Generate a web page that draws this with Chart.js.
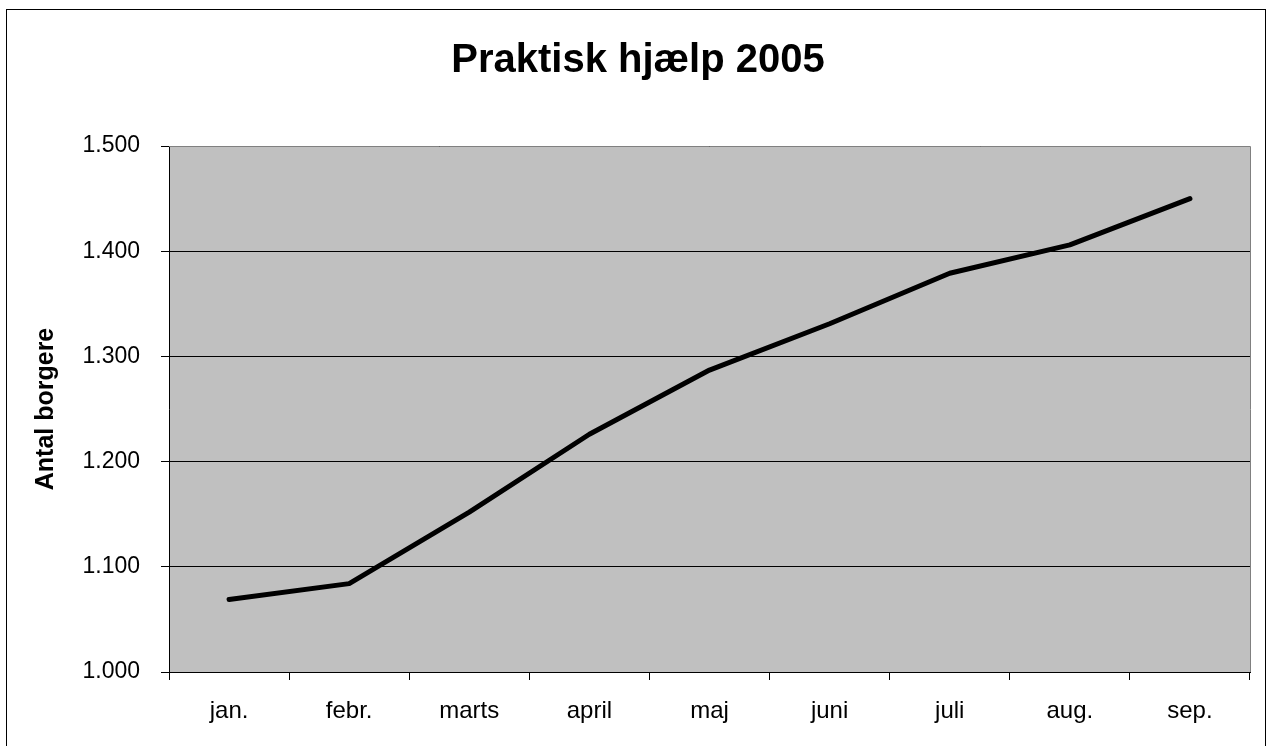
<!DOCTYPE html>
<html>
<head>
<meta charset="utf-8">
<title>Praktisk hjælp 2005</title>
<script src="https://cdn.jsdelivr.net/npm/chart.js@4"></script>
<style>
    body { margin: 0; background: #fff; }
    canvas { display: block; }
</style>
</head>
<body>
<canvas id="helpChart" width="1270" height="746"></canvas>
<script>
// Data
const months = ['jan.', 'febr.', 'marts', 'april', 'maj', 'juni', 'juli', 'aug.', 'sep.'];
const citizens = [1069, 1084, 1152, 1226, 1287, 1331, 1379, 1406, 1450];
const yTicks = [1000, 1100, 1200, 1300, 1400, 1500];

const fontFamily = '"Liberation Sans", Arial, sans-serif';

// Danish thousands separator, e.g. 1.500
function formatDa(value) {
    const s = String(Math.round(value));
    return s.replace(/\B(?=(\d{3})+(?!\d))/g, '.');
}

// Grey plot area, outer frame and grey top/right edges
const framePlugin = {
    id: 'frame',
    beforeDraw(chart) {
        const ctx = chart.ctx;
        const a = chart.chartArea;
        ctx.save();
        ctx.fillStyle = '#fff';
        ctx.fillRect(0, 0, chart.width, chart.height);
        ctx.fillStyle = '#C0C0C0';
        ctx.fillRect(a.left, a.top, a.right - a.left, a.bottom - a.top);
        ctx.restore();
    },
    afterDraw(chart) {
        const ctx = chart.ctx;
        const a = chart.chartArea;
        ctx.save();
        ctx.strokeStyle = '#808080';
        ctx.lineWidth = 1;
        ctx.beginPath();
        ctx.moveTo(a.left, a.top + 0.5);
        ctx.lineTo(a.right + 0.5, a.top + 0.5);
        ctx.lineTo(a.right + 0.5, a.bottom);
        ctx.stroke();
        ctx.strokeStyle = '#000';
        ctx.strokeRect(6.5, 9.5, 1259, 800);
        ctx.restore();
    }
};

const ctx = document.getElementById('helpChart').getContext('2d');
new Chart(ctx, {
    type: 'line',
    data: {
        labels: months,
        datasets: [{
            label: 'Antal borgere',
            data: citizens,
            borderColor: '#000',
            borderWidth: 5,
            borderCapStyle: 'round',
            borderJoinStyle: 'round',
            pointRadius: 0,
            tension: 0,
            fill: false
        }]
    },
    options: {
        responsive: false,
        animation: false,
        layout: { padding: { top: 0, left: 26, right: 20, bottom: 0 } },
        plugins: {
            legend: { display: false },
            tooltip: { enabled: false },
            title: {
                display: true,
                text: 'Praktisk hjælp 2005',
                color: '#000',
                font: { family: fontFamily, size: 40, weight: 'bold', lineHeight: 1.2 },
                padding: { top: 37, bottom: 61 }
            }
        },
        scales: {
            x: {
                offset: true,
                grid: {
                    offset: true,
                    drawOnChartArea: false,
                    drawTicks: true,
                    tickLength: 8,
                    color: '#000'
                },
                border: { color: '#000', width: 1 },
                ticks: {
                    color: '#000',
                    padding: 17,
                    maxRotation: 0,
                    font: { family: fontFamily, size: 24 }
                },
                afterFit(scale) { scale.height = 74; }
            },
            y: {
                min: 1000,
                max: 1500,
                afterBuildTicks(scale) {
                    scale.ticks = yTicks.map(v => ({ value: v }));
                },
                grid: {
                    color: '#000',
                    lineWidth: 1,
                    drawTicks: true,
                    tickLength: 8
                },
                border: { color: '#000', width: 1 },
                ticks: {
                    color: '#000',
                    padding: 21,
                    font: { family: fontFamily, size: 23 },
                    callback: value => formatDa(value)
                },
                title: {
                    display: true,
                    text: 'Antal borgere',
                    color: '#000',
                    font: { family: fontFamily, size: 25, weight: 'bold', lineHeight: 1.2 },
                    padding: { top: 5, bottom: 0 }
                },
                afterFit(scale) { scale.width = 143; }
            }
        }
    },
    plugins: [framePlugin]
});
</script>
</body>
</html>
